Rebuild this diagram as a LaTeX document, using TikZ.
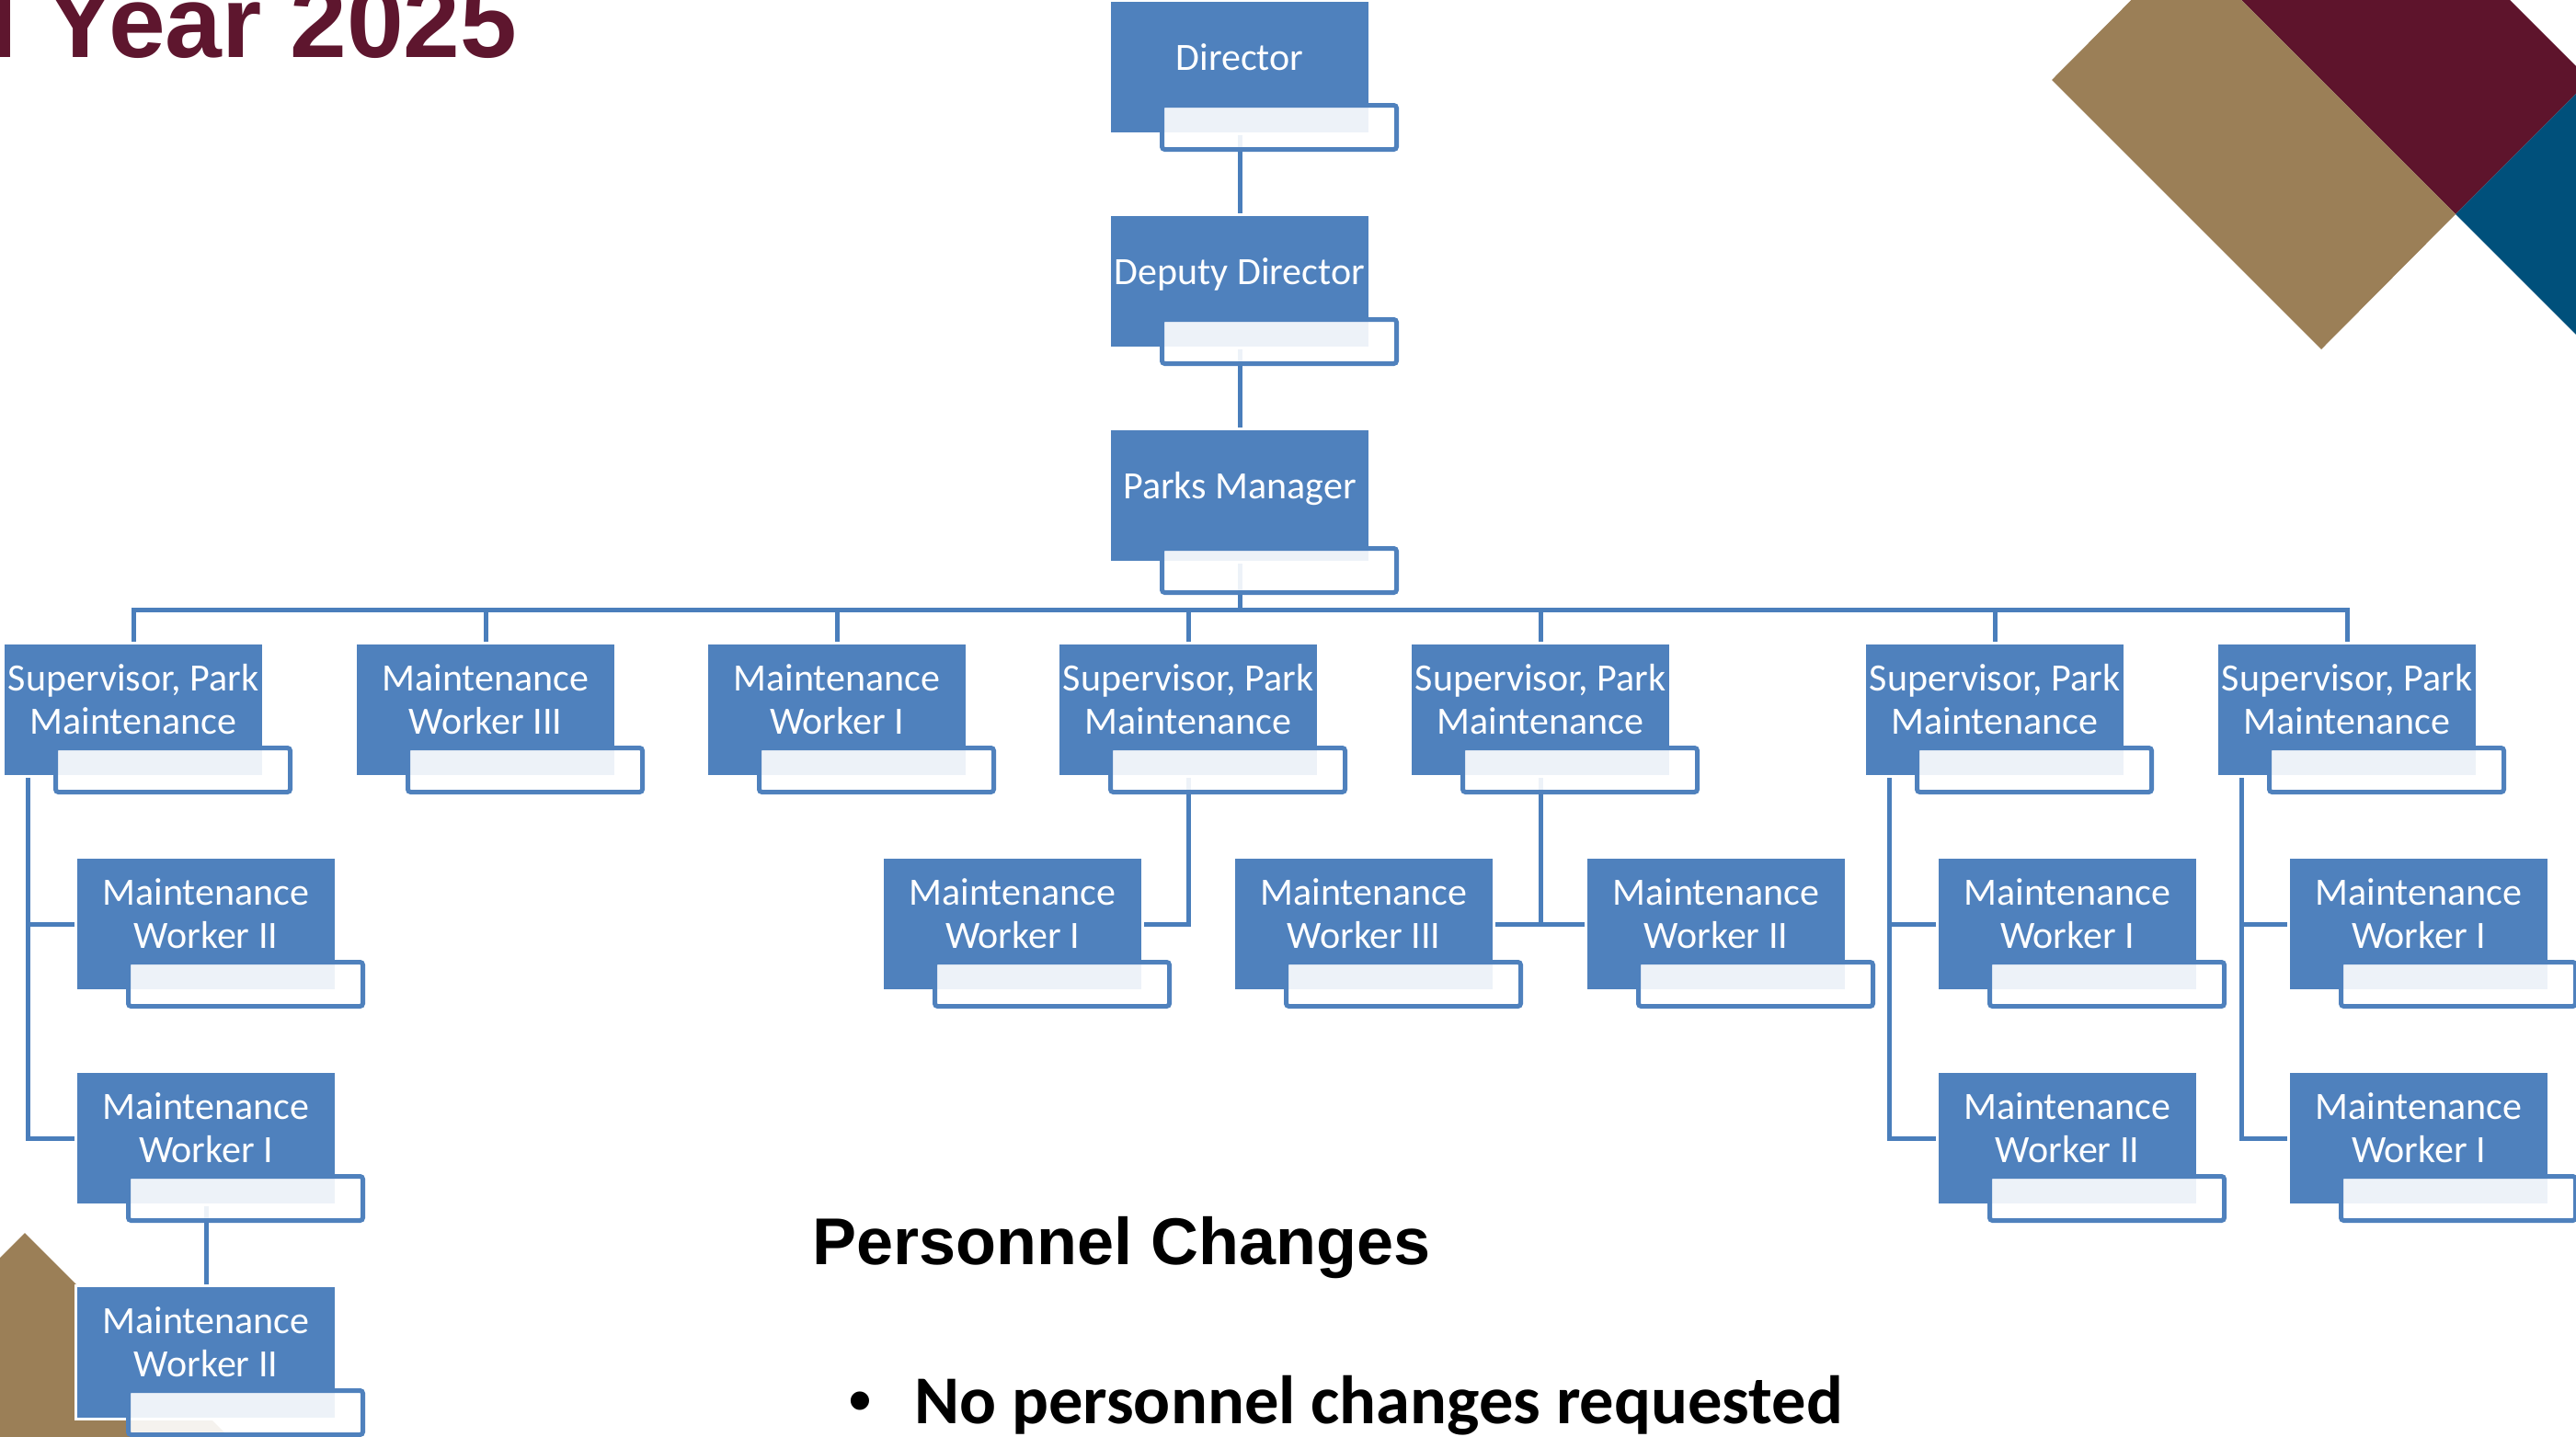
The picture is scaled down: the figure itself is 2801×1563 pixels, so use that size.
\documentclass[tikz,border=0pt]{standalone}
\usepackage{fontspec}
\newfontfamily\boxfont{Carlito}
\newfontfamily\arialfont{Liberation Sans}
\usetikzlibrary{calc}
\definecolor{boxblue}{HTML}{4F81BD}
\definecolor{connblue}{HTML}{4A7EBB}
\definecolor{decormaroon}{HTML}{5E142C}
\definecolor{decortan}{HTML}{9B7F57}
\definecolor{decorblue}{HTML}{00507B}
\definecolor{titlered}{HTML}{5E162E}
\pgfdeclarelayer{bg}
\pgfdeclarelayer{fg}
\pgfsetlayers{bg,main,fg}
\tikzset{
  bluebox/.style={rectangle, anchor=north west, fill=boxblue, draw=white, line width=3pt,
    minimum width=283pt, minimum height=145pt, inner sep=0pt, outer sep=0pt},
  boxtext/.style={text=white, align=center, inner sep=0pt, font=\boxfont\fontsize{42}{47}\selectfont},
  whitebox/.style={rectangle, anchor=north west, fill=white, fill opacity=0.9, draw=boxblue,
    line width=5pt, rounded corners=3pt, minimum width=255pt, minimum height=48pt, inner sep=0pt},
  conn/.style={draw=connblue, line width=5pt},
}
\newcommand\twol[2]{\strut #1\\\strut #2}
\newcommand\orgbox[5][110]{%
  \node[bluebox] (#2) at ({#3-1.5},{#4-1.5}) {};
  \node[boxtext] (#2-t) at ({#3+140},{#4+65}) {#5};
  \begin{pgfonlayer}{fg}
  \node[whitebox] (#2-w) at ({#3+53},{#4+#1}) {};
  \end{pgfonlayer}%
}
\begin{document}
\begin{tikzpicture}[x=1pt,y=-1pt]
\useasboundingbox (0,0) rectangle (2801,1563);
\clip (0,0) rectangle (2801,1563);

% decorative shapes
\fill[decormaroon] (2670,233) -- (2816,87) -- (2316,-413) -- (2170,-267) -- cycle;
\fill[decortan] (2231,87) -- (2524,380) -- (2670,233) -- (2377,-60) -- cycle;
\fill[decorblue] (2670,233) -- (2816,87) -- (3016,287) -- (2870,433) -- cycle;
\begin{pgfonlayer}{bg}
\fill[decortan] (27,1341) -- (327,1641) -- (-273,1641) -- cycle;
\end{pgfonlayer}

% title
\node[anchor=base west, inner sep=0pt, text=titlered,
  font=\arialfont\bfseries\fontsize{111}{120}\selectfont] (title) at (50,63) {\llap{l\ }Year 2025};

% boxes
\orgbox{dir}{1208}{2}{\strut Director}
\orgbox{dep}{1208}{235}{\strut Deputy Director}
\orgbox[126]{pm}{1208}{468}{\strut Parks Manager}

\orgbox{s1}{5}{701}{\twol{Supervisor, Park}{Maintenance}}
\orgbox{s2}{388}{701}{\twol{Maintenance}{Worker III}}
\orgbox{s3}{770}{701}{\twol{Maintenance}{Worker I}}
\orgbox{s4}{1152}{701}{\twol{Supervisor, Park}{Maintenance}}
\orgbox{s5}{1535}{701}{\twol{Supervisor, Park}{Maintenance}}
\orgbox{s6}{2029}{701}{\twol{Supervisor, Park}{Maintenance}}
\orgbox{s7}{2412}{701}{\twol{Supervisor, Park}{Maintenance}}

\orgbox{a1}{84}{934}{\twol{Maintenance}{Worker II}}
\orgbox{a2}{84}{1167}{\twol{Maintenance}{Worker I}}
\orgbox{a3}{84}{1400}{\twol{Maintenance}{Worker II}}
\orgbox{d1}{961}{934}{\twol{Maintenance}{Worker I}}
\orgbox{e1}{1343}{934}{\twol{Maintenance}{Worker III}}
\orgbox{e2}{1726}{934}{\twol{Maintenance}{Worker II}}
\orgbox{f1}{2108}{934}{\twol{Maintenance}{Worker I}}
\orgbox{f2}{2108}{1167}{\twol{Maintenance}{Worker II}}
\orgbox{g1}{2490}{934}{\twol{Maintenance}{Worker I}}
\orgbox{g2}{2490}{1167}{\twol{Maintenance}{Worker I}}

% connectors
\coordinate (bus) at (1348,663);
\begin{pgfonlayer}{bg}
\draw[conn] (dir.south) -- (dep.north);
\draw[conn] (dep.south) -- (pm.north);
\draw[conn] (pm.south) -- (bus);
\draw[conn] (s1.north) |- (bus) -| (s7.north);
\foreach \s in {s2,s3,s4,s5,s6} \draw[conn] (\s.north) -- (\s.north |- bus);
\draw[conn] ($(s1.south west)+(27,0)$) |- (a1.west);
\draw[conn] ($(s1.south west)+(27,0)$) |- (a2.west);
\draw[conn] (a2.south) -- (a3.north);
\draw[conn] (s4.south) |- (d1.east);
\draw[conn] (s5.south) -- (s5.south |- e1.east);
\draw[conn] (e1.east) -- (e2.west);
\draw[conn] ($(s6.south west)+(27,0)$) |- (f1.west);
\draw[conn] ($(s6.south west)+(27,0)$) |- (f2.west);
\draw[conn] ($(s7.south west)+(27,0)$) |- (g1.west);
\draw[conn] ($(s7.south west)+(27,0)$) |- (g2.west);
\end{pgfonlayer}

% personnel changes
\node[anchor=base west, inner sep=0pt,
  font=\arialfont\bfseries\fontsize{72}{80}\selectfont] (head) at (883,1375) {Personnel Changes};
\node[anchor=base, inner sep=0pt, font=\arialfont\fontsize{74}{80}\selectfont] (bul) at (935,1548) {•};
\node[anchor=base west, inner sep=0pt,
  font=\boxfont\bfseries\fontsize{74.5}{80}\selectfont] (item) at (994,1548) {No personnel changes requested};
\end{tikzpicture}
\end{document}
